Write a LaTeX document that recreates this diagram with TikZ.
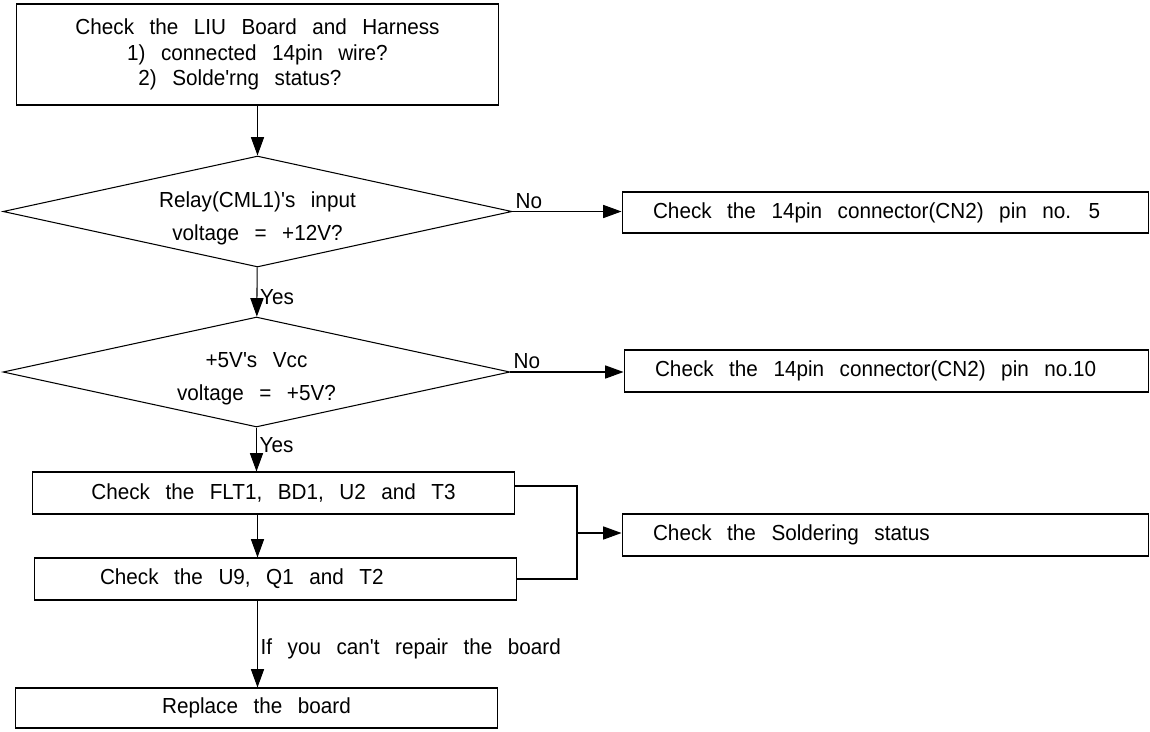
\documentclass[tikz,border=0pt]{standalone}
\usepackage{fontspec}
\setmainfont{Liberation Sans}[FakeStretch=0.95, WordSpace={2.7,1,1}, Ligatures=TeXOff]
\usetikzlibrary{shapes.geometric,arrows.meta}

\begin{document}
\begin{tikzpicture}[x=0.02cm, y=-0.02cm, line join=miter,
    every node/.style={font=\fontsize{12.4}{14.5}\selectfont},
    box/.style={draw, line width=0.6pt, inner sep=0pt, align=center},
    sidebox/.style={draw, line width=0.6pt, inner ysep=0pt, inner xsep=0.62cm,
      text width=9.3cm, align=flush left},
    dec/.style={draw, diamond, aspect=4.5, line width=0.6pt, inner sep=0pt},
    dectext/.style={align=center, yshift=-0.14cm, font=\fontsize{12.4}{18.7}\selectfont},
    arr/.style={line width=0.6pt, -{Triangle[length=10.5pt,width=7.5pt]}},
    lbl/.style={inner sep=1.5pt}]
  \useasboundingbox (0,0) rectangle (1150,731);
  % main column
  \node[box, minimum width=9.66cm, minimum height=2.02cm] (start) at (257.5,54.5)
    {Check the LIU Board and Harness\\1) connected 14pin wire?\hspace*{5pt}\\2) Solde'rng status?\hspace*{20pt}};
  \node[dec, minimum width=10.18cm, minimum height=2.22cm,
    label={[dectext]center:{Relay(CML1)'s input\\voltage = +12V?}}] (relay) at (257.5,211.5) {};
  \node[dec, minimum width=10.14cm, minimum height=2.2cm,
    label={[dectext]center:{+5V's Vcc\\voltage = +5V?}}] (vcc) at (256.5,372) {};
  \node[box, minimum width=9.66cm, minimum height=0.84cm] (flt) at (273.5,493)
    {Check the FLT1, BD1, U2 and T3};
  \node[sidebox, inner xsep=1.32cm, text width=7.02cm, minimum height=0.84cm] (u9) at (275.5,579)
    {Check the U9, Q1 and T2};
  \node[box, minimum width=9.66cm, minimum height=0.8cm] (repl) at (256.5,708)
    {Replace the board};
  % side boxes
  \node[sidebox, minimum height=0.82cm] (pin5) at (885.5,212.5)
    {Check the 14pin connector(CN2) pin no. 5};
  \node[sidebox, text width=9.26cm, minimum height=0.84cm] (pin10) at (886.5,371)
    {Check the 14pin connector(CN2) pin no.10};
  \node[sidebox, minimum height=0.84cm] (solder) at (885.5,535)
    {Check the Soldering status};
  \coordinate (jn) at (577,533);

  \draw[arr] (start) -- (relay);
  \draw[arr] (relay) -- (vcc) node[lbl, pos=0.6, right] {Yes};
  \draw[arr] (vcc.south) -- (vcc.south |- flt.north) node[lbl, pos=0.4, right] {Yes};
  \draw[arr] (flt.south -| start.south) -- (u9.north -| start.south);
  \draw[arr] (u9.south -| start.south) -- (repl.north -| start.south)
    node[lbl, pos=0.56, right] {If you can't repair the board};
  \draw[arr] (relay.east) -- (relay.east -| pin5.west)
    node[lbl, pos=0, anchor=south west] {No};
  \draw[arr] (vcc.east) -- (vcc.east -| pin10.west)
    node[lbl, pos=0, anchor=south west] {No};
  \draw[line width=0.6pt] ([yshift=0.14cm]flt.east) -| (jn) |- (u9.east);
  \draw[arr] (jn) -- (jn -| solder.west);
\end{tikzpicture}
\end{document}
